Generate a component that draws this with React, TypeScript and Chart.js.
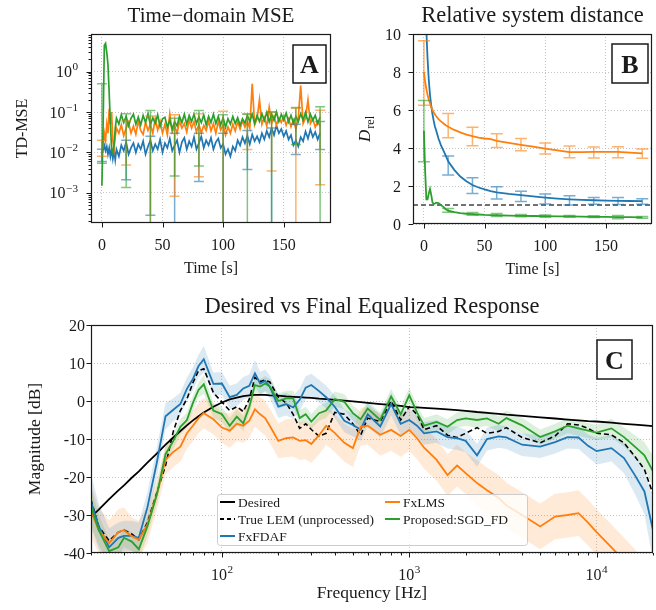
import { useEffect, useRef } from 'react';
import { Chart, registerables } from 'chart.js';

Chart.register(...registerables);

const SERIF = '"Liberation Serif", "Times New Roman", serif';
const INK = '#1a1a1a';
const GRID = '#b5b5b5';
const BLUE = '#1f77b4';
const ORANGE = '#ff7f0e';
const GREEN = '#2ca02c';

// ---------------- Panel A: Time-domain MSE ----------------
const A_X_MIN = -9;
const A_X_MAX = 189;
const A_Y_MIN = 1.8e-4;
const A_Y_MAX = 8.5;
const A_X_TICKS = [0, 50, 100, 150];
const A_Y_TICKS = [1e-3, 1e-2, 1e-1, 1];
const A_Y_EXP = ['\u22123', '\u22122', '\u22121', '0'];
const A_TIME = [0, 1, 2, 3, 4, 5, 6, 7, 8, 9, 10, 11, 12,
  14, 16, 18, 20, 22, 24, 26, 28, 30, 32, 34, 36, 38, 40, 42, 44, 46, 48, 50, 52, 54, 56, 58, 60,
  62, 64, 66, 68, 70, 72, 74, 76, 78, 80, 82, 84, 86, 88, 90, 92, 94, 96, 98, 100, 102, 104, 106,
  108, 110, 112, 114, 116, 118, 120, 122, 124, 126, 128, 130, 132, 134, 136, 138, 140, 142, 144,
  146, 148, 150, 152, 154, 156, 158, 160, 162, 164, 166, 168, 170, 172, 174, 176, 178, 180];
const A_FXFDAF = [0.009, 0.012, 0.015, 0.011, 0.014, 0.009, 0.013, 0.008, 0.012, 0.007, 0.011, 0.0065, 0.012,
  0.008, 0.015, 0.011, 0.018, 0.009, 0.013, 0.017, 0.01, 0.016, 0.012,
  0.019, 0.009, 0.014, 0.02, 0.011, 0.016, 0.012, 0.021, 0.01, 0.017,
  0.013, 0.022, 0.011, 0.015, 0.02, 0.01, 0.018, 0.023, 0.012, 0.019,
  0.014, 0.024, 0.012, 0.017, 0.025, 0.013, 0.02, 0.015, 0.023, 0.012,
  0.018, 0.022, 0.013, 0.016, 0.009, 0.012, 0.008, 0.014, 0.011, 0.02,
  0.015, 0.024, 0.017, 0.026, 0.016, 0.028, 0.019, 0.025, 0.018, 0.03,
  0.021, 0.034, 0.024, 0.04, 0.027, 0.046, 0.03, 0.038, 0.025, 0.034,
  0.021, 0.027, 0.015, 0.02, 0.014, 0.024, 0.019, 0.033, 0.022, 0.037,
  0.024, 0.032, 0.021, 0.03];
const A_FXLMS = [0.01, 0.015, 0.03, 0.02, 0.05, 0.03, 0.12, 0.05, 0.1, 0.02, 0.012, 0.025, 0.04,
  0.03, 0.048, 0.026, 0.04, 0.055, 0.03, 0.045, 0.028, 0.06, 0.035,
  0.028, 0.055, 0.035, 0.05, 0.03, 0.068, 0.036, 0.058, 0.03, 0.05,
  0.027, 0.09, 0.032, 0.045, 0.03, 0.06, 0.04, 0.052, 0.032, 0.065,
  0.04, 0.058, 0.032, 0.05, 0.03, 0.047, 0.035, 0.06, 0.034, 0.052,
  0.03, 0.058, 0.036, 0.048, 0.027, 0.043, 0.03, 0.05, 0.034, 0.058,
  0.038, 0.062, 0.042, 0.058, 0.04, 0.5, 0.048, 0.068, 0.2, 0.05,
  0.072, 0.045, 0.13, 0.052, 0.078, 0.048, 0.07, 0.055, 0.08, 0.047,
  0.068, 0.043, 0.063, 0.038, 0.07, 0.45, 0.052, 0.072, 0.2, 0.052,
  0.068, 0.042, 0.058, 0.045];
const A_PROPOSED = [0.0015, 0.05, 4.5, 5, 3, 1.5, 0.3, 0.05, 0.012, 0.01, 0.015, 0.04, 0.07,
  0.05, 0.085, 0.055, 0.078, 0.046, 0.07, 0.088, 0.05, 0.075, 0.048,
  0.082, 0.055, 0.09, 0.048, 0.072, 0.052, 0.085, 0.044, 0.068, 0.074,
  0.042, 0.062, 0.038, 0.058, 0.045, 0.078, 0.055, 0.088, 0.05, 0.082,
  0.058, 0.088, 0.052, 0.076, 0.055, 0.085, 0.048, 0.078, 0.055, 0.088,
  0.052, 0.078, 0.048, 0.072, 0.042, 0.068, 0.05, 0.078, 0.052, 0.072,
  0.047, 0.068, 0.053, 0.082, 0.058, 0.088, 0.052, 0.082, 0.058, 0.09,
  0.062, 0.098, 0.057, 0.088, 0.063, 0.1, 0.058, 0.088, 0.064, 0.094,
  0.057, 0.083, 0.053, 0.078, 0.058, 0.09, 0.063, 0.098, 0.057, 0.088,
  0.062, 0.083, 0.052, 0.075];
const A_ERR_TIME = [0, 20, 40, 60, 80, 100, 120, 140, 160, 180];
const A_FXFDAF_HI = [0.012, 0.02, 0.025, 0.03, 0.03, 0.03, 0.035, 0.04, 0.05, 0.058];
const A_FXFDAF_LO = [0.006, 0.0021, 0.00028, 0, 0.0019, 0, 0.0038, 0, 0.0089, 0.0118];
const A_FXLMS_HI = [0.02, 0.06, 0.08, 0.085, 0.09, 0.105, 0.09, 0.1, 0.124, 0.11];
const A_FXLMS_LO = [0.0081, 0.0049, 0, 0.00083, 0.0025, 0, 0.0118, 0.0035, 0, 0.0016];
const A_PROPOSED_HI = [0.5, 0.09, 0.109, 0.07, 0.109, 0.085, 0.088, 0.1, 0.13, 0.135];
const A_PROPOSED_LO = [0.0054, 0.00135, 0, 0.0026, 0.0046, 0, 0, 0, 0.0158, 0];

// ---------------- Panel B: Relative system distance ----------------
const B_X_MIN = -9;
const B_X_MAX = 188;
const B_Y_MIN = 0;
const B_Y_MAX = 10;
const B_X_TICKS = [0, 50, 100, 150];
const B_Y_TICKS = [0, 2, 4, 6, 8, 10];
const B_REF_LEVEL = 1;
const B_TIME = [0, 1, 2, 3, 4, 5, 6, 7, 8, 9, 10, 12, 14, 16, 18, 20, 25, 30, 35, 40, 45, 50, 55, 60,
  70, 80, 90, 100, 110, 120, 130, 140, 150, 160, 170, 180];
const B_FXLMS = [8.0, 7.5, 7.1, 6.8, 6.55, 6.35, 6.16, 6.0, 5.88, 5.77, 5.68, 5.52, 5.4, 5.3, 5.2, 5.12,
  4.95, 4.82, 4.7, 4.62, 4.55, 4.5, 4.47, 4.38, 4.27, 4.17, 4.07, 3.97, 3.87, 3.78, 3.78, 3.8, 3.8, 3.8,
  3.76, 3.72];
const B_FXFDAF = [16, 13, 10.2, 8.7, 7.6, 6.8, 6.25, 5.8, 5.45, 5.15, 4.95, 4.5, 4.15, 3.88, 3.6, 3.3,
  2.85, 2.5, 2.25, 2.05, 1.92, 1.82, 1.73, 1.66, 1.58, 1.52, 1.45, 1.39, 1.34, 1.3, 1.27, 1.25, 1.23,
  1.22, 1.21, 1.2];
const B_PROPOSED = [4.9, 2.8, 1.3, 1.3, 1.6, 1.85, 1.55, 1.15, 1.05, 1.08, 1.12, 1.1, 1.0, 0.9, 0.78,
  0.7, 0.62, 0.57, 0.54, 0.52, 0.5, 0.48, 0.47, 0.46, 0.44, 0.43, 0.42, 0.41, 0.4, 0.4, 0.39, 0.38, 0.37,
  0.36, 0.36, 0.35];
const B_ERR_TIME = [0, 20, 40, 60, 80, 100, 120, 140, 160, 180];
const B_FXLMS_HI = [9.65, 5.82, 5.09, 4.75, 4.5, 4.26, 4.1, 4.05, 4.07, 3.95];
const B_FXLMS_LO = [6.25, 4.54, 4.12, 4.02, 3.86, 3.68, 3.49, 3.47, 3.49, 3.46];
const B_FXFDAF_HI = [null, 3.58, 2.44, 1.96, 1.72, 1.58, 1.49, 1.4, 1.39, 1.33];
const B_FXFDAF_LO = [null, 2.58, 1.61, 1.32, 1.19, 1.05, 1.0, 1.04, 1.02, 1.04];
const B_PROPOSED_HI = [6.5, 0.82, 0.6, 0.55, 0.5, 0.47, 0.45, 0.43, 0.45, 0.4];
const B_PROPOSED_LO = [3.28, 0.62, 0.46, 0.4, 0.38, 0.36, 0.35, 0.34, 0.28, 0.3];

// ---------------- Panel C: Desired vs Final Equalized Response ----------------
const C_X_MIN = 20;
const C_X_MAX = 20000;
const C_Y_MIN = -40;
const C_Y_MAX = 20;
const C_X_TICKS = [100, 1000, 10000];
const C_X_EXP = ['2', '3', '4'];
const C_Y_TICKS = [-40, -30, -20, -10, 0, 10, 20];
const C_FREQ = [20, 22, 25, 28, 30, 33, 36, 40, 45, 50, 55, 60, 65, 70, 75, 80, 90, 100, 110, 120,
  130, 140, 150, 160, 170, 180, 200, 220, 240, 260, 280, 300, 330, 360, 400, 450, 500, 550, 600, 700,
  800, 900, 1000, 1100, 1200, 1400, 1600, 1800, 2000, 2300, 2600, 3000, 3300, 4000, 5000, 6000, 7000,
  8000, 9000, 10000, 12000, 14000, 16000, 18000, 20000];
const C_DESIRED = [-30.5, -28.6, -25.8, -23.5, -22.2, -20.2, -18.5, -16.2, -13.8, -11.5, -9.6, -7.9,
  -6.4, -5.1, -4, -3, -1.5, -0.4, 0.4, 0.9, 1.3, 1.5, 1.6, 1.6, 1.6, 1.5, 1.4, 1.2, 1.1, 1.0, 0.9, 0.8,
  0.6, 0.5, 0.3, 0.1, -0.1, -0.3, -0.5, -0.8, -1.0, -1.3, -1.6, -1.7, -1.8, -2.0, -2.2, -2.4, -2.6,
  -2.9, -3.1, -3.4, -3.6, -3.9, -4.3, -4.6, -4.9, -5.1, -5.3, -5.4, -5.7, -6.0, -6.2, -6.4, -6.6];
const C_TRUE_LEM = [-26, -33, -36.8, -34.5, -34, -35, -36.5, -32, -24, -17, -8, -2.5, 0.5, 4.8, 8,
  8.5, 2.2, -0.3, -2.5, -1.5, -2.8, 0.5, 6.2, 5.1, 5.5, 5, 1, -0.5, -3.5, -7.2, -6, -7.5, -9.3, -8.5,
  -3, -3.5, -6, -9, -4.5, -5.4, 0, -5, -1.5, -3.5, -7.5, -6.5, -9, -9.6, -8.5, -7, -8.5, -8, -7, -9.6,
  -11, -9.2, -6, -6.3, -7.2, -8.5, -8.9, -11, -14.6, -18, -24.5];
const C_FXFDAF = [-26.4, -33, -38.5, -36, -35.5, -35.5, -36, -28, -16, -4, -2.3, -0.8, 3.2, 5.8, 9.2,
  11, 4.5, 4.6, 1, 1.6, 3.3, 4, 7.3, 4.6, 5.3, 3.8, -1.5, -0.8, -1.7, 0.3, 3.5, 4.2, 2.6, 1, -1.5, -5.2,
  -6.3, -7.5, -3.5, -6.7, -0.8, -6, -5, -6.5, -8.5, -8, -9.5, -9.8, -10.5, -14.3, -10, -9.3, -9.6,
  -11.5, -12, -10.8, -9.5, -9.6, -11.8, -13.2, -12.4, -15, -19.5, -23.8, -34];
const C_FXLMS = [-29, -34, -37.4, -34.5, -34, -35.6, -36.5, -32.5, -24.5, -15.5, -13.4, -12, -8.5,
  -6.5, -4.5, -3.2, -4.8, -7, -7.8, -6, -6.5, -5.2, -2.2, -3.5, -4.5, -6.5, -10.5, -9.8, -9.6, -10.5,
  -10.3, -11.3, -9, -6.5, -8.4, -11, -12.4, -6.8, -6.5, -8.9, -7.6, -9.2, -7.6, -9.8, -12.3, -15.5,
  -19.5, -17, -19, -21.6, -23.5, -25.5, -27.5, -30, -33, -30.4, -30, -29.5, -32, -34.5, -38.5, -42,
  -45, -48, -50];
const C_PROPOSED = [-27.7, -34, -39.5, -38.5, -36, -37, -39, -33, -24.5, -14, -10.5, -6.8, -5, -0.5,
  2.9, 4.4, -2.5, -3.5, -6.5, -4.1, -5.9, -1.5, 4.2, 3.8, 4.6, 3.8, 0, 0.7, 0.7, -4.5, -3.5, -5.4, -3.2,
  -2.5, 0.5, -0.2, -3.2, -4.8, -2, -5, 1.2, -3.5, 1.5, -3, -6.5, -5.5, -6.8, -5, -4.6, -5, -4.6, -6,
  -4.5, -6.4, -9.5, -8, -6.5, -7.2, -7.8, -8.3, -7.2, -9.5, -12, -14.3, -18.5];
const C_FXFDAF_SPREAD = [7, 6, 5, 4, 4, 4, 4, 4, 4, 3.5, 3, 3, 3, 3, 3, 3.5, 3, 3, 3, 3, 3, 3, 3.5,
  3, 3, 3, 3, 3, 3, 3, 3, 3, 3, 3, 3, 3, 3, 3, 3, 3, 3, 3, 3, 3, 3, 3, 3, 3, 3, 3, 3, 3, 3, 3, 3, 3, 3,
  3, 3, 3.5, 3.5, 4, 5, 6, 8];
const C_FXLMS_SPREAD = [7, 6, 6, 6, 6, 5, 5, 5, 4, 4, 4, 4, 4, 4, 4, 4, 4, 4, 4.5, 4.5, 4.5, 4.5, 4.5,
  4.5, 4.5, 4.5, 4.5, 5, 5, 5, 5, 5, 5, 5, 5, 5, 5, 5, 5, 5.5, 5.5, 5.5, 5.5, 5.5, 5.5, 5.5, 5.5, 5.5,
  5.5, 6, 6, 6, 6, 6, 6, 6, 6, 6, 6, 6, 6, 6, 6, 6, 6];
const C_PROPOSED_SPREAD = [5, 4, 3, 2.5, 2.5, 2.5, 2.5, 2.5, 2.5, 2, 2, 2, 2, 2, 2, 2.5, 2, 2, 2, 2, 2,
  2, 2, 2, 2, 2, 2, 2, 2, 2, 2, 2, 2, 2, 2, 2, 2, 2, 2, 2, 2, 2, 2, 2, 2, 2, 2, 2, 2, 2, 2, 2, 2, 2, 2,
  2, 2, 2, 2, 2, 2.5, 2.5, 3, 3.5, 4];

// ---------------- helpers ----------------
type Lab = { b: string; e?: string };
type AxisSpec = { major: number[]; labels: Lab[]; minor?: number[] };
type ErrSeries = { color: string; hi: (number | null)[]; lo: (number | null)[] };
type LegendItem = { label: string; color: string; dash?: number[]; col: number; row: number };
type DecorCfg = {
  x: AxisSpec;
  y: AxisSpec;
  yLabelGap: number;
  xLabelDrop: number;
  title: string;
  titleSize: number;
  xTitle: string;
  xTitleDrop: number;
  yTitle: string;
  yTitleX: number;
  axisTitleSize: number;
  letter: { t: string; dx: number; dy: number; w: number; h: number };
  err?: { times: number[]; cap: number; series: ErrSeries[] };
  legend?: { dx: number; dy: number; w: number; h: number; colX: number[]; rowY: number[]; items: LegendItem[] };
};

const fnt = (size: number, style = '') => `${style}${size}px ${SERIF}`;

function drawLabel(ctx: CanvasRenderingContext2D, lab: Lab, x: number, y: number, size: number, align: 'center' | 'right') {
  ctx.font = fnt(size);
  const wb = ctx.measureText(lab.b).width;
  const es = size * 0.7;
  let we = 0;
  if (lab.e) {
    ctx.font = fnt(es);
    we = ctx.measureText(lab.e).width + 0.5;
  }
  const total = wb + we;
  const x0 = align === 'center' ? x - total / 2 : x - total;
  ctx.textAlign = 'left';
  ctx.textBaseline = 'alphabetic';
  ctx.fillStyle = INK;
  ctx.font = fnt(size);
  ctx.fillText(lab.b, x0, y);
  if (lab.e) {
    ctx.font = fnt(es);
    ctx.fillText(lab.e, x0 + wb + 0.5, y - size * 0.42);
  }
}

function decor(cfg: DecorCfg) {
  return {
    id: 'decor',
    afterDatasetsDraw(chart: any) {
      if (!cfg.err) return;
      const { ctx, chartArea: a } = chart;
      const xs = chart.scales.x;
      const ys = chart.scales.y;
      const c = cfg.err.cap;
      ctx.save();
      ctx.beginPath();
      ctx.rect(a.left, a.top, a.right - a.left, a.bottom - a.top);
      ctx.clip();
      ctx.globalAlpha = 0.6;
      ctx.lineWidth = 1.5;
      ctx.setLineDash([]);
      for (const s of cfg.err.series) {
        ctx.strokeStyle = s.color;
        cfg.err.times.forEach((t, i) => {
          const hi = s.hi[i];
          const lo = s.lo[i];
          if (hi == null) return;
          const x = xs.getPixelForValue(t);
          const yT = ys.getPixelForValue(hi);
          const hasLo = lo != null && lo > 0;
          const yB = hasLo ? ys.getPixelForValue(lo as number) : a.bottom + 10;
          ctx.beginPath();
          ctx.moveTo(x, yT);
          ctx.lineTo(x, yB);
          ctx.moveTo(x - c, yT);
          ctx.lineTo(x + c, yT);
          if (hasLo) {
            ctx.moveTo(x - c, yB);
            ctx.lineTo(x + c, yB);
          }
          ctx.stroke();
        });
      }
      ctx.restore();
    },
    afterDraw(chart: any) {
      const { ctx, chartArea: a } = chart;
      const xs = chart.scales.x;
      const ys = chart.scales.y;
      ctx.save();
      ctx.setLineDash([]);
      // frame
      ctx.strokeStyle = INK;
      ctx.lineWidth = 1.2;
      ctx.strokeRect(Math.round(a.left) + 0.5, Math.round(a.top) + 0.5, Math.round(a.right - a.left) - 1, Math.round(a.bottom - a.top) - 1);
      // ticks
      ctx.lineWidth = 1;
      const tick = (axis: 'x' | 'y', v: number, len: number) => {
        const s = axis === 'x' ? xs : ys;
        const p = Math.round(s.getPixelForValue(v)) + 0.5;
        ctx.beginPath();
        if (axis === 'x') {
          ctx.moveTo(p, a.bottom);
          ctx.lineTo(p, a.bottom + len);
        } else {
          ctx.moveTo(a.left, p);
          ctx.lineTo(a.left - len, p);
        }
        ctx.stroke();
      };
      cfg.x.major.forEach((v) => tick('x', v, 4.5));
      (cfg.x.minor || []).forEach((v) => tick('x', v, 2.5));
      cfg.y.major.forEach((v) => tick('y', v, 4.5));
      (cfg.y.minor || []).forEach((v) => tick('y', v, 2.5));
      // tick labels
      cfg.x.major.forEach((v, i) => {
        drawLabel(ctx, cfg.x.labels[i], xs.getPixelForValue(v), a.bottom + cfg.xLabelDrop, 16, 'center');
      });
      cfg.y.major.forEach((v, i) => {
        drawLabel(ctx, cfg.y.labels[i], a.left - cfg.yLabelGap, ys.getPixelForValue(v) + 5.5, 16, 'right');
      });
      // titles
      ctx.fillStyle = INK;
      ctx.textAlign = 'center';
      ctx.textBaseline = 'alphabetic';
      const cx = (a.left + a.right) / 2;
      const cy = (a.top + a.bottom) / 2;
      ctx.font = fnt(cfg.titleSize);
      ctx.fillText(cfg.title, cx, a.top - 12);
      ctx.font = fnt(cfg.axisTitleSize);
      ctx.fillText(cfg.xTitle, cx, a.bottom + cfg.xTitleDrop);
      ctx.save();
      ctx.translate(cfg.yTitleX, cy);
      ctx.rotate(-Math.PI / 2);
      if (cfg.yTitle === 'Drel') {
        ctx.font = fnt(17, 'italic ');
        const wD = ctx.measureText('D').width;
        ctx.font = fnt(12);
        const wR = ctx.measureText('rel').width;
        const x0 = -(wD + wR + 1) / 2;
        ctx.textAlign = 'left';
        ctx.font = fnt(17, 'italic ');
        ctx.fillText('D', x0, 0);
        ctx.font = fnt(12);
        ctx.fillText('rel', x0 + wD + 1, 4);
      } else {
        ctx.font = fnt(cfg.axisTitleSize);
        ctx.fillText(cfg.yTitle, 0, 0);
      }
      ctx.restore();
      // letter box
      const L = cfg.letter;
      const bx = a.right - L.dx - L.w;
      const by = a.top + L.dy;
      ctx.fillStyle = '#ffffff';
      ctx.fillRect(bx, by, L.w, L.h);
      ctx.strokeStyle = INK;
      ctx.lineWidth = 1.5;
      ctx.strokeRect(bx, by, L.w, L.h);
      ctx.fillStyle = INK;
      ctx.font = fnt(26, 'bold ');
      ctx.textAlign = 'center';
      ctx.fillText(L.t, bx + L.w / 2, by + L.h / 2 + 9);
      // legend
      const G = cfg.legend;
      if (G) {
        const lx = a.left + G.dx;
        const ly = a.top + G.dy;
        ctx.fillStyle = 'rgba(255,255,255,0.8)';
        ctx.strokeStyle = '#cccccc';
        ctx.lineWidth = 1;
        ctx.beginPath();
        ctx.roundRect(lx + 0.5, ly + 0.5, G.w, G.h, 3);
        ctx.fill();
        ctx.stroke();
        ctx.font = fnt(13.5);
        ctx.textAlign = 'left';
        G.items.forEach((it) => {
          const hx = lx + G.colX[it.col];
          const hy = ly + G.rowY[it.row];
          ctx.strokeStyle = it.color;
          ctx.lineWidth = 2;
          ctx.setLineDash(it.dash || []);
          ctx.beginPath();
          ctx.moveTo(hx, hy);
          ctx.lineTo(hx + 15, hy);
          ctx.stroke();
          ctx.setLineDash([]);
          ctx.fillStyle = INK;
          ctx.fillText(it.label, hx + 18, hy + 4.5);
        });
      }
      ctx.restore();
    },
  };
}

function axis(type: string, min: number, max: number, ticks: number[], key: 'width' | 'height', size: number) {
  return {
    type,
    min,
    max,
    afterBuildTicks: (s: any) => {
      s.ticks = ticks.map((v) => ({ value: v }));
    },
    afterFit: (s: any) => {
      s[key] = size;
    },
    ticks: { display: false },
    grid: { color: GRID, lineWidth: 0.8, drawTicks: false },
    border: { display: false, dash: [1, 2] },
  };
}

function options(pad: { top: number; right: number }, x: any, y: any) {
  return {
    animation: false,
    responsive: false,
    maintainAspectRatio: false,
    devicePixelRatio: 1,
    events: [],
    layout: { padding: { left: 0, top: pad.top, right: pad.right, bottom: 0 } },
    plugins: { legend: { display: false }, tooltip: { enabled: false }, title: { display: false } },
    scales: { x, y },
  };
}

function logMinor(from: number, to: number) {
  const out: number[] = [];
  for (let d = Math.floor(Math.log10(from)); d <= Math.ceil(Math.log10(to)); d++) {
    for (let m = 2; m <= 9; m++) {
      const v = m * Math.pow(10, d);
      if (v >= from && v <= to) out.push(v);
    }
  }
  return out;
}

const pts = (xs: number[], ys: (number | null)[]) => xs.map((x, i) => ({ x, y: ys[i] }));

function line(data: any[], color: string, width: number, order: number, dash?: number[]) {
  return { data, borderColor: color, borderWidth: width, pointRadius: 0, tension: 0, fill: false, order, borderDash: dash || [] };
}

function makeA(canvas: HTMLCanvasElement) {
  return new Chart(canvas, {
    type: 'line',
    data: {
      datasets: [
        line(pts(A_TIME, A_FXFDAF), BLUE, 1.7, 3),
        line(pts(A_TIME, A_FXLMS), ORANGE, 1.7, 2),
        line(pts(A_TIME, A_PROPOSED), GREEN, 1.7, 1),
      ],
    },
    options: options(
      { top: 34, right: 9 },
      axis('linear', A_X_MIN, A_X_MAX, A_X_TICKS, 'height', 67),
      axis('logarithmic', A_Y_MIN, A_Y_MAX, A_Y_TICKS, 'width', 91),
    ) as any,
    plugins: [
      decor({
        x: { major: A_X_TICKS, labels: A_X_TICKS.map((v) => ({ b: String(v) })) },
        y: { major: A_Y_TICKS, labels: A_Y_EXP.map((e) => ({ b: '10', e })), minor: logMinor(A_Y_MIN, A_Y_MAX) },
        yLabelGap: 13,
        xLabelDrop: 27,
        title: 'Time\u2212domain MSE',
        titleSize: 21,
        xTitle: 'Time [s]',
        xTitleDrop: 50,
        yTitle: 'TD-MSE',
        yTitleX: 27,
        axisTitleSize: 16,
        letter: { t: 'A', dx: 5, dy: 11, w: 33, h: 38 },
        err: {
          times: A_ERR_TIME,
          cap: 5,
          series: [
            { color: BLUE, hi: A_FXFDAF_HI, lo: A_FXFDAF_LO },
            { color: ORANGE, hi: A_FXLMS_HI, lo: A_FXLMS_LO },
            { color: GREEN, hi: A_PROPOSED_HI, lo: A_PROPOSED_LO },
          ],
        },
      }),
    ],
  });
}

function makeB(canvas: HTMLCanvasElement) {
  return new Chart(canvas, {
    type: 'line',
    data: {
      datasets: [
        line(pts([B_X_MIN, B_X_MAX], [B_REF_LEVEL, B_REF_LEVEL]), '#444444', 1.5, 5, [5, 3]),
        line(pts(B_TIME, B_FXFDAF), BLUE, 1.8, 3),
        line(pts(B_TIME, B_FXLMS), ORANGE, 1.8, 2),
        line(pts(B_TIME, B_PROPOSED), GREEN, 1.8, 1),
      ],
    },
    options: options(
      { top: 34, right: 4 },
      axis('linear', B_X_MIN, B_X_MAX, B_X_TICKS, 'height', 66),
      axis('linear', B_Y_MIN, B_Y_MAX, B_Y_TICKS, 'width', 73),
    ) as any,
    plugins: [
      decor({
        x: { major: B_X_TICKS, labels: B_X_TICKS.map((v) => ({ b: String(v) })) },
        y: { major: B_Y_TICKS, labels: B_Y_TICKS.map((v) => ({ b: String(v) })) },
        yLabelGap: 12,
        xLabelDrop: 27,
        title: 'Relative system distance',
        titleSize: 22.5,
        xTitle: 'Time [s]',
        xTitleDrop: 50,
        yTitle: 'Drel',
        yTitleX: 30,
        axisTitleSize: 16,
        letter: { t: 'B', dx: 4, dy: 10, w: 36, h: 39 },
        err: {
          times: B_ERR_TIME,
          cap: 6,
          series: [
            { color: BLUE, hi: B_FXFDAF_HI, lo: B_FXFDAF_LO },
            { color: ORANGE, hi: B_FXLMS_HI, lo: B_FXLMS_LO },
            { color: GREEN, hi: B_PROPOSED_HI, lo: B_PROPOSED_LO },
          ],
        },
      }),
    ],
  });
}

function band(mean: number[], spread: number[], sign: number) {
  return mean.map((m, i) => m + sign * spread[i]);
}

function bandPair(mean: number[], spread: number[], rgba: string) {
  return [
    { data: pts(C_FREQ, band(mean, spread, 1)), borderWidth: 0, pointRadius: 0, tension: 0, fill: '+1', backgroundColor: rgba, order: 20 },
    { data: pts(C_FREQ, band(mean, spread, -1)), borderWidth: 0, pointRadius: 0, tension: 0, fill: false, order: 20 },
  ];
}

function makeC(canvas: HTMLCanvasElement) {
  return new Chart(canvas, {
    type: 'line',
    data: {
      datasets: [
        ...bandPair(C_FXFDAF, C_FXFDAF_SPREAD, 'rgba(31,119,180,0.16)'),
        ...bandPair(C_FXLMS, C_FXLMS_SPREAD, 'rgba(255,127,14,0.16)'),
        ...bandPair(C_PROPOSED, C_PROPOSED_SPREAD, 'rgba(44,160,44,0.16)'),
        line(pts(C_FREQ, C_DESIRED), '#000000', 1.8, 6),
        line(pts(C_FREQ, C_TRUE_LEM), '#000000', 1.6, 5, [5, 3]),
        line(pts(C_FREQ, C_FXFDAF), BLUE, 1.8, 4),
        line(pts(C_FREQ, C_FXLMS), ORANGE, 1.8, 3),
        line(pts(C_FREQ, C_PROPOSED), GREEN, 1.8, 2),
      ],
    },
    options: options(
      { top: 35, right: 3 },
      axis('logarithmic', C_X_MIN, C_X_MAX, C_X_TICKS, 'height', 57),
      axis('linear', C_Y_MIN, C_Y_MAX, C_Y_TICKS, 'width', 91),
    ) as any,
    plugins: [
      decor({
        x: { major: C_X_TICKS, labels: C_X_EXP.map((e) => ({ b: '10', e })), minor: logMinor(C_X_MIN, C_X_MAX).filter((v) => !C_X_TICKS.includes(v)) },
        y: { major: C_Y_TICKS, labels: C_Y_TICKS.map((v) => ({ b: String(v) })) },
        yLabelGap: 6,
        xLabelDrop: 27,
        title: 'Desired vs Final Equalized Response',
        titleSize: 22.5,
        xTitle: 'Frequency [Hz]',
        xTitleDrop: 45,
        yTitle: 'Magnitude [dB]',
        yTitleX: 40,
        axisTitleSize: 17.5,
        letter: { t: 'C', dx: 21, dy: 15, w: 35, h: 39 },
        legend: {
          dx: 126,
          dy: 169,
          w: 310,
          h: 51,
          colX: [3, 168],
          rowY: [8, 25, 42],
          items: [
            { label: 'Desired', color: '#000000', col: 0, row: 0 },
            { label: 'True LEM (unprocessed)', color: '#000000', dash: [4, 3], col: 0, row: 1 },
            { label: 'FxFDAF', color: BLUE, col: 0, row: 2 },
            { label: 'FxLMS', color: ORANGE, col: 1, row: 0 },
            { label: 'Proposed:SGD_FD', color: GREEN, col: 1, row: 1 },
          ],
        },
      }),
    ],
  });
}

function ChartCanvas({ left, top, w, h, make }: { left: number; top: number; w: number; h: number; make: (c: HTMLCanvasElement) => Chart }) {
  const ref = useRef<HTMLCanvasElement>(null);
  useEffect(() => {
    const chart = make(ref.current as HTMLCanvasElement);
    return () => chart.destroy();
  }, []);
  return <canvas ref={ref} width={w} height={h} style={{ position: 'absolute', left, top, width: w, height: h }} />;
}

export default function App() {
  return (
    <div style={{ position: 'absolute', left: 0, top: 0, width: 656, height: 610, background: '#ffffff' }}>
      <ChartCanvas left={0} top={0} w={340} h={290} make={makeA} />
      <ChartCanvas left={340} top={0} w={316} h={290} make={makeB} />
      <ChartCanvas left={0} top={290} w={656} h={320} make={makeC} />
    </div>
  );
}
